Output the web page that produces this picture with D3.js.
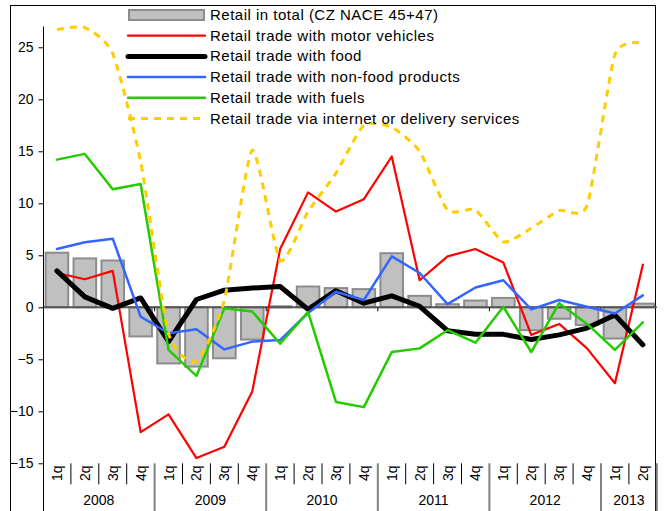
<!DOCTYPE html>
<html>
<head>
<meta charset="utf-8">
<script src="https://cdn.jsdelivr.net/npm/d3@7"></script>
<style>
  body { margin: 0; background: #fff; }
  svg { display: block; }
  text { font-family: "Liberation Sans", Arial, sans-serif; font-size: 14px; fill: #000; }
</style>
</head>
<body>
<div id="chart"></div>
<script>
// Categories: quarter label and year for each of the 22 points
var quarters = ["1q","2q","3q","4q","1q","2q","3q","4q","1q","2q","3q","4q",
                "1q","2q","3q","4q","1q","2q","3q","4q","1q","2q"];
var years = ["2008","2008","2008","2008","2009","2009","2009","2009","2010","2010","2010","2010",
             "2011","2011","2011","2011","2012","2012","2012","2012","2013","2013"];

// Series values (% y/y)
var retailTotal = [5.25, 4.7, 4.5, -2.8, -5.4, -5.7, -4.9, -3.1, 0.1, 2.0, 1.85, 1.75,
                   5.2, 1.1, 0.3, 0.65, 0.9, -2.2, -1.1, -1.7, -3.0, 0.35];
var motorVehicles = [3.3, 2.7, 3.5, -12.0, -10.3, -14.5, -13.4, -8.1, 5.6, 11.05, 9.2, 10.4,
                     14.5, 2.6, 4.9, 5.6, 4.3, -2.65, -1.6, -3.95, -7.3, 4.1];
var food = [3.5, 1.0, -0.1, 0.9, -3.3, 0.75, 1.65, 1.85, 2.0, -0.2, 1.6, 0.4,
            1.1, 0.1, -2.25, -2.6, -2.6, -3.1, -2.65, -2.0, -0.75, -3.6];
var nonFood = [5.6, 6.25, 6.6, -0.9, -2.5, -2.1, -4.05, -3.3, -3.15, -0.55, 1.5, 0.7,
               4.9, 3.3, 0.3, 1.9, 2.6, -0.2, 0.7, 0.05, -0.6, 1.15];
var fuels = [14.2, 14.75, 11.35, 11.85, -4.1, -6.6, -0.1, -0.4, -3.5, -0.45, -9.1, -9.6,
             -4.3, -3.95, -2.2, -3.4, 0.05, -4.3, 0.4, -1.6, -4.1, -1.45];
var internet = [26.7, 26.9, 24.4, 14.0, -2.5, -5.2, 0.7, 15.1, 4.5, 9.2, 12.9, 17.5,
                17.3, 15.0, 9.35, 9.35, 6.3, 7.6, 9.3, 9.8, 24.3, 25.4];

var yTicks = [-15, -10, -5, 0, 5, 10, 15, 20, 25];

var lineSeries = [
  { name: "Retail trade with motor vehicles", values: motorVehicles, color: "#ff0000", width: 2.2, smooth: false },
  { name: "Retail trade with food", values: food, color: "#000000", width: 5, smooth: false },
  { name: "Retail trade with non-food products", values: nonFood, color: "#3366ff", width: 2.5, smooth: false },
  { name: "Retail trade with fuels", values: fuels, color: "#22cc00", width: 2.5, smooth: false },
  { name: "Retail trade via internet or delivery services", values: internet, color: "#ffcc00", width: 3, smooth: true, dash: "7,6" }
];

var svgWidth = 664;
var svgHeight = 511;

var svg = d3.select("#chart")
  .append("svg")
  .attr("width", svgWidth)
  .attr("height", svgHeight);

// Outer chart frame
svg.append("rect")
  .attr("x", 10.5).attr("y", 5.5)
  .attr("width", 645).attr("height", 530)
  .attr("fill", "none")
  .attr("stroke", "#000")
  .attr("stroke-width", 1);

var idx = d3.range(quarters.length);

// Scales
var x = d3.scaleBand()
  .domain(idx)
  .range([43, 656.8])
  .paddingInner(0.19)
  .paddingOuter(0.095);

var y = d3.scaleLinear()
  .domain([-20, 27])
  .range([515.3, 26.5]);

var step = x.step();
var cx = i => x(i) + x.bandwidth() / 2;

// Bars
svg.append("g").selectAll("rect")
  .data(retailTotal)
  .enter()
  .append("rect")
  .attr("x", (d, i) => x(i))
  .attr("y", d => y(Math.max(0, d)))
  .attr("width", x.bandwidth())
  .attr("height", d => Math.abs(y(d) - y(0)))
  .attr("fill", "#c0c0c0")
  .attr("stroke", "#8c8c8c")
  .attr("stroke-width", 2);

// Zero line
svg.append("line")
  .attr("x1", 43).attr("x2", 656.8)
  .attr("y1", y(0)).attr("y2", y(0))
  .attr("stroke", "#555")
  .attr("stroke-width", 2);

// small ticks at year boundaries on the zero line
idx.filter(i => i % 4 === 0 && i > 0).forEach(function (i) {
  var xx = x.range()[0] + i * step;
  svg.append("line")
    .attr("x1", xx).attr("x2", xx)
    .attr("y1", y(0)).attr("y2", y(0) + 4)
    .attr("stroke", "#000");
});

// Y axis
var leftAxis = d3.axisLeft(y)
  .tickValues(yTicks)
  .tickSize(5)
  .tickSizeOuter(0);

var yAxisG = svg.append("g")
  .attr("transform", "translate(43.5,0)")
  .call(leftAxis);
yAxisG.select(".domain").attr("d", "M0," + y(27) + "V" + 520).attr("stroke", "#000");
yAxisG.selectAll(".tick line").attr("stroke", "#000");
yAxisG.selectAll(".tick text")
  .attr("x", -10)
  .style("font-size", "14px")
  .style("font-family", "'Liberation Sans', Arial, sans-serif")
  .attr("fill", "#000");

// Lines
lineSeries.forEach(function (s) {
  var line = d3.line()
    .x((d, i) => cx(i))
    .y(d => y(d))
    .curve(s.smooth ? d3.curveCardinal.tension(0.4) : d3.curveLinear);
  svg.append("path")
    .datum(s.values)
    .attr("d", line)
    .attr("fill", "none")
    .attr("stroke", s.color)
    .attr("stroke-width", s.width)
    .attr("stroke-linejoin", "round")
    .attr("stroke-linecap", s.dash ? "butt" : "round")
    .attr("stroke-dasharray", s.dash || null);
});

// Category axis: quarter labels, separators, year labels
var catTop = y(-15);
var x0 = x.range()[0];
for (var i = 1; i <= quarters.length; i++) {
  var xx = x0 + i * step;
  var yearEdge = (i % 4 === 0) || i === quarters.length;
  svg.append("line")
    .attr("x1", xx).attr("x2", xx)
    .attr("y1", catTop)
    .attr("y2", yearEdge ? 520 : catTop + 21)
    .attr("stroke", yearEdge ? "#808080" : "#000")
    .attr("stroke-width", yearEdge ? 2 : 1);
}

svg.append("g").selectAll("text")
  .data(quarters)
  .enter()
  .append("text")
  .attr("transform", (d, i) => `translate(${cx(i) + 5}, ${catTop + 10}) rotate(-90)`)
  .attr("text-anchor", "middle")
  .text(d => d);

var yearGroups = d3.groups(idx, i => years[i]);
svg.append("g").selectAll("text")
  .data(yearGroups)
  .enter()
  .append("text")
  .attr("x", d => (x0 + d[1][0] * step + x0 + (d[1][d[1].length - 1] + 1) * step) / 2)
  .attr("y", 505)
  .attr("text-anchor", "middle")
  .text(d => d[0]);

// Legend
var legend = svg.append("g");
var legendRows = [{ name: "Retail in total (CZ NACE 45+47)", bar: true }].concat(lineSeries);
legendRows.forEach(function (s, k) {
  var ly = 15 + k * 20.7;
  if (s.bar) {
    legend.append("rect")
      .attr("x", 129).attr("y", ly - 5)
      .attr("width", 75).attr("height", 10)
      .attr("fill", "#c0c0c0")
      .attr("stroke", "#8c8c8c")
      .attr("stroke-width", 2);
  } else {
    legend.append("line")
      .attr("x1", 128).attr("x2", 205)
      .attr("y1", ly).attr("y2", ly)
      .attr("stroke", s.color)
      .attr("stroke-width", s.width)
      .attr("stroke-linecap", s.dash ? "butt" : "round")
      .attr("stroke-dasharray", s.dash || null);
  }
  legend.append("text")
    .attr("x", 210)
    .attr("y", ly + 5)
    .style("font-size", "15px")
    .style("letter-spacing", "0.5px")
    .text(s.name);
});
</script>
</body>
</html>
